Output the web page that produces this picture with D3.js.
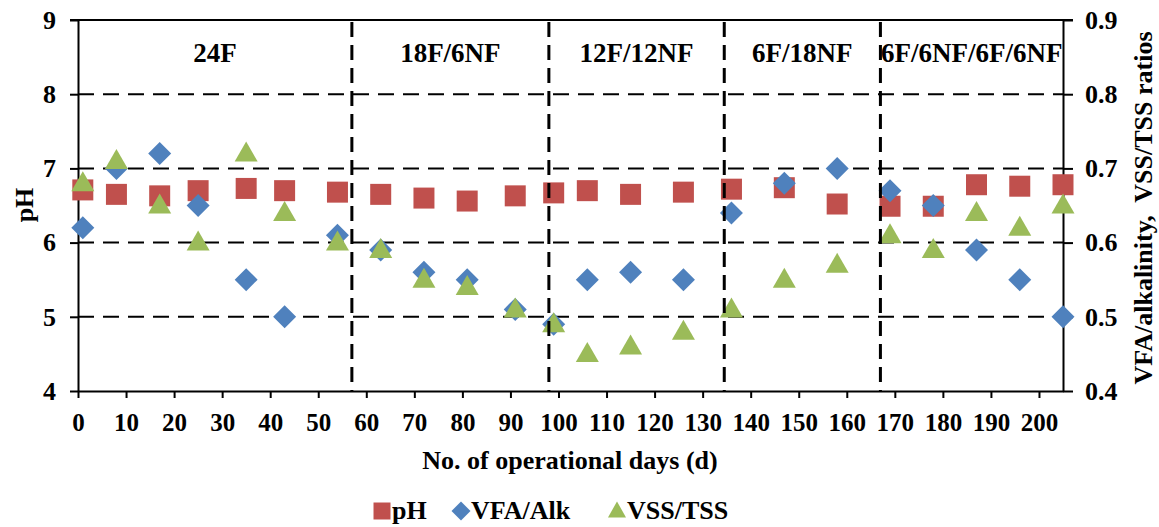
<!DOCTYPE html>
<html>
<head>
<meta charset="utf-8">
<script src="https://cdn.jsdelivr.net/npm/d3@7"></script>
<style>
  body { margin: 0; background: #fff; }
  text { font-family: "Liberation Serif", "Times New Roman", serif; font-weight: bold; fill: #000; }
</style>
</head>
<body>
<svg id="chart"></svg>
<script>
// operational days of each sample
const days = [1, 8, 17, 25, 35, 43, 54, 63, 72, 81, 91, 99, 106, 115, 126, 136, 147, 158, 169, 178, 187, 196, 205];
const phValues = [6.71, 6.65, 6.63, 6.70, 6.73, 6.70, 6.68, 6.65, 6.60, 6.56, 6.63, 6.67, 6.70, 6.65, 6.68, 6.72, 6.74, 6.52, 6.49, 6.49, 6.78, 6.76, 6.78];
const vfaAlk = [0.62, 0.70, 0.72, 0.65, 0.55, 0.50, 0.61, 0.59, 0.56, 0.55, 0.51, 0.49, 0.55, 0.56, 0.55, 0.64, 0.68, 0.70, 0.67, 0.65, 0.59, 0.55, 0.50];
const vssTss = [0.68, 0.71, 0.65, 0.60, 0.72, 0.64, 0.60, 0.59, 0.55, 0.54, 0.51, 0.49, 0.45, 0.46, 0.48, 0.51, 0.55, 0.57, 0.61, 0.59, 0.64, 0.62, 0.65];

// feeding periods (boundaries in days) and their labels
const periodBounds = [57, 98, 134.5, 167];
const periodLabels = ['24F', '18F/6NF', '12F/12NF', '6F/18NF', '6F/6NF/6F/6NF'];

const phTicks = [4, 5, 6, 7, 8, 9];
const ratioTicks = [0.4, 0.5, 0.6, 0.7, 0.8, 0.9];
const dayTicks = d3.range(0, 201, 10);
const seriesNames = ['pH', 'VFA/Alk', 'VSS/TSS'];

const colors = {pH: '#C0504D', 'VFA/Alk': '#4F81BD', 'VSS/TSS': '#9BBB59'};

const width = 1159, height = 527;
const margin = {top: 20, right: 96, bottom: 136, left: 78};
const innerW = width - margin.left - margin.right;
const innerH = height - margin.top - margin.bottom;

const svg = d3.select('#chart')
    .attr('width', width)
    .attr('height', height);

const chart = svg.append('g')
    .attr('transform', `translate(${margin.left},${margin.top})`);

const xScale = d3.scaleLinear().domain([0, 205]).range([0, innerW]);
const yScale = d3.scaleLinear().domain([4, 9]).range([innerH, 0]);
const y2Scale = d3.scaleLinear().domain([0.4, 0.9]).range([innerH, 0]);

// dashed horizontal gridlines
chart.selectAll('.grid')
    .data(phTicks.filter(d => d > 4 && d < 9))
    .join('line')
      .attr('class', 'grid')
      .attr('x1', 0)
      .attr('x2', innerW)
      .attr('y1', d => yScale(d))
      .attr('y2', d => yScale(d))
      .attr('stroke', '#000')
      .attr('stroke-width', 2)
      .attr('stroke-dasharray', '16,9');

// top border
chart.append('line')
    .attr('x1', -8).attr('x2', innerW + 10)
    .attr('y1', 0).attr('y2', 0)
    .attr('stroke', '#000').attr('stroke-width', 2);

// axes
const xAxis = d3.axisBottom(xScale).tickValues(dayTicks).tickSize(7).tickSizeOuter(0);
const yAxis = d3.axisLeft(yScale).tickValues(phTicks).tickSize(8).tickSizeOuter(0)
    .tickFormat(d3.format('d'));
const y2Axis = d3.axisRight(y2Scale).tickValues(ratioTicks).tickSize(10).tickSizeOuter(0)
    .tickFormat(d3.format('.1f'));

const xAxisG = chart.append('g')
    .attr('transform', `translate(0,${innerH})`)
    .call(xAxis);
xAxisG.selectAll('text').attr('dy', '1.2em').style('font-size', '25px');

const yAxisG = chart.append('g').call(yAxis);
yAxisG.selectAll('text').attr('x', -22).style('font-size', '26px');

const y2AxisG = chart.append('g')
    .attr('transform', `translate(${innerW},0)`)
    .call(y2Axis);
y2AxisG.selectAll('text').attr('x', 22).style('font-size', '26px');

[xAxisG, yAxisG, y2AxisG].forEach(g => {
  g.selectAll('.domain').attr('stroke', '#000').attr('stroke-width', 2);
  g.selectAll('.tick line').attr('stroke', '#000').attr('stroke-width', 2);
  g.selectAll('text').attr('fill', '#000');
});

// markers
const points = days.map((d, i) => ({day: d, ph: phValues[i], vfa: vfaAlk[i], vss: vssTss[i]}));

const squarePath = s => `M${-s / 2},${-s / 2}h${s}v${s}h${-s}Z`;
const diamondPath = s => `M0,${-s / 2}L${s / 2},0L0,${s / 2}L${-s / 2},0Z`;
const trianglePath = (w, h) => `M0,${-h * 0.6}L${w / 2},${h * 0.4}L${-w / 2},${h * 0.4}Z`;

chart.append('g').selectAll('path')
    .data(points)
    .join('path')
      .attr('d', squarePath(21))
      .attr('transform', d => `translate(${xScale(d.day)},${yScale(d.ph)})`)
      .attr('fill', colors.pH);

chart.append('g').selectAll('path')
    .data(points)
    .join('path')
      .attr('d', diamondPath(23))
      .attr('transform', d => `translate(${xScale(d.day)},${y2Scale(d.vfa)})`)
      .attr('fill', colors['VFA/Alk']);

chart.append('g').selectAll('path')
    .data(points)
    .join('path')
      .attr('d', trianglePath(23, 20))
      .attr('transform', d => `translate(${xScale(d.day)},${y2Scale(d.vss)})`)
      .attr('fill', colors['VSS/TSS']);

// period separators, drawn over the markers
chart.selectAll('.period')
    .data(periodBounds)
    .join('line')
      .attr('class', 'period')
      .attr('x1', d => xScale(d))
      .attr('x2', d => xScale(d))
      .attr('y1', 2)
      .attr('y2', innerH)
      .attr('stroke', '#000')
      .attr('stroke-width', 3)
      .attr('stroke-dasharray', '15,8');

const edges = [0, ...periodBounds, 205];
chart.selectAll('.period-label')
    .data(periodLabels)
    .join('text')
      .attr('class', 'period-label')
      .attr('x', (d, i) => (xScale(edges[i]) + xScale(edges[i + 1])) / 2)
      .attr('y', 42)
      .attr('text-anchor', 'middle')
      .style('font-size', '27px')
      .text(d => d);

// axis titles
svg.append('text')
    .attr('transform', `translate(33,205) rotate(-90)`)
    .attr('text-anchor', 'middle')
    .style('font-size', '26px')
    .text('pH');

svg.append('text')
    .attr('transform', `translate(1152,208) rotate(-90)`)
    .attr('text-anchor', 'middle')
    .style('font-size', '26px')
    .style('white-space', 'pre')
    .text('VFA/alkalinity,  VSS/TSS ratios');

svg.append('text')
    .attr('x', 570)
    .attr('y', 469)
    .attr('text-anchor', 'middle')
    .style('font-size', '26px')
    .text('No. of operational days (d)');

// legend
const legendItems = [
  {name: seriesNames[0], x: 373, path: squarePath(17)},
  {name: seriesNames[1], x: 452, path: diamondPath(19)},
  {name: seriesNames[2], x: 608, path: trianglePath(18, 16)}
];
const legend = svg.append('g').attr('transform', 'translate(0,511)');
const item = legend.selectAll('g')
    .data(legendItems)
    .join('g')
      .attr('transform', d => `translate(${d.x},0)`);
item.append('path')
    .attr('d', d => d.path)
    .attr('transform', 'translate(9,0)')
    .attr('fill', d => colors[d.name]);
item.append('text')
    .attr('x', 19)
    .attr('y', 8)
    .style('font-size', '26px')
    .text(d => d.name);
</script>
</body>
</html>
